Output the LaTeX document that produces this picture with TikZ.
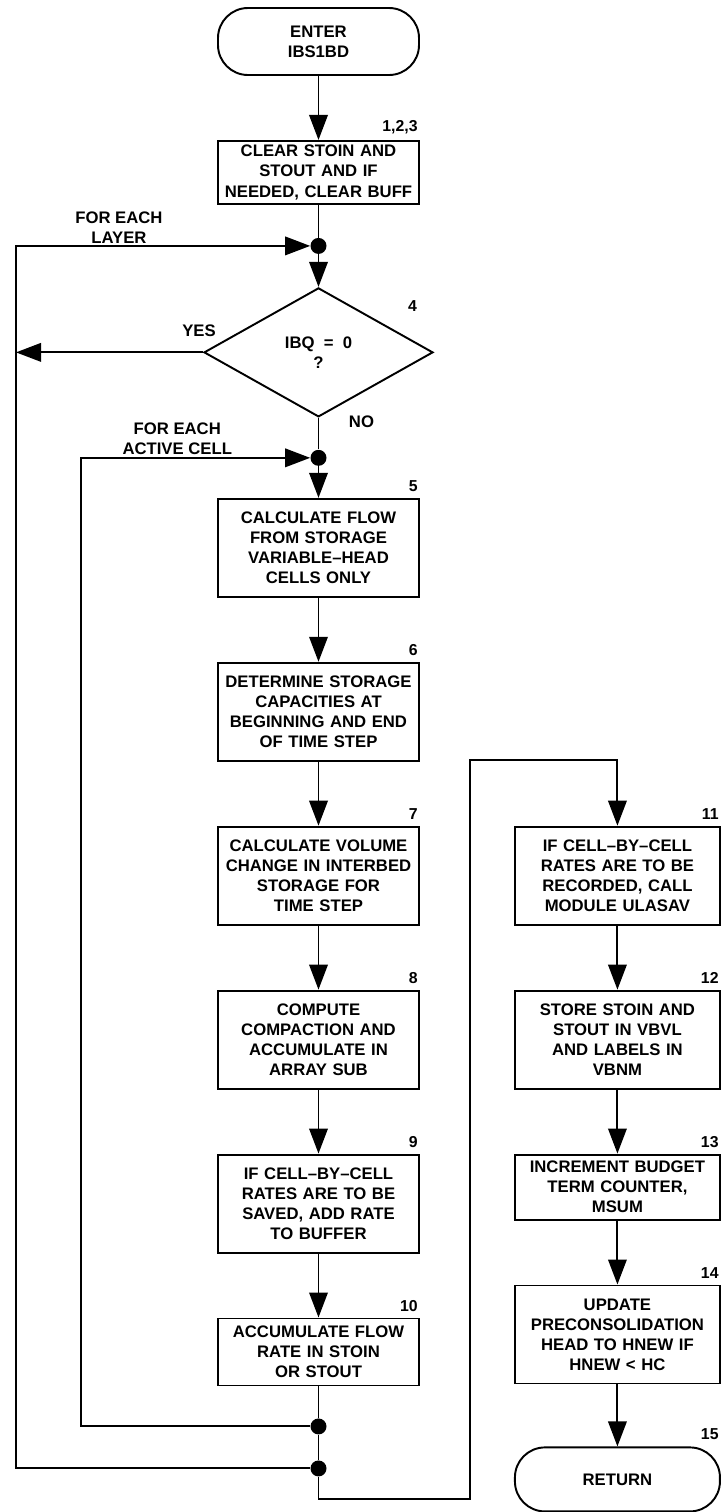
\documentclass[tikz,border=0pt]{standalone}
\usepackage{fontspec}
\setmainfont{Liberation Sans}
\usetikzlibrary{positioning, arrows.meta, shapes.geometric, calc}

\begin{document}
\begin{tikzpicture}[
    node distance=1.28cm and 1.88cm,
    every node/.style={font=\bfseries\fontsize{9.5}{11.4}\selectfont},
    proc/.style={draw, line width=1.1pt, align=center, text width=3.84cm,
      inner xsep=0.09cm, inner ysep=2pt, minimum height=1.96cm},
    wideproc/.style={proc, text width=3.92cm},
    term/.style={draw, line width=1.1pt, rounded corners=0.6cm, align=center,
      minimum width=4.02cm, minimum height=1.34cm},
    decide/.style={draw, diamond, line width=1.1pt, aspect=1.78, inner sep=0pt,
      minimum width=4.58cm, minimum height=2.58cm, align=center},
    joint/.style={circle, fill, inner sep=0pt, minimum size=0.32cm},
    stepno/.style={label={[anchor=south east, inner sep=0pt, xshift=-0.04cm,
      yshift=0.12cm, font=\bfseries\fontsize{9}{10}\selectfont]north east:#1}},
    note/.style={align=center, inner sep=1pt},
    wire/.style={line width=1.1pt},
    arr/.style={wire, -{Triangle[length=0.5cm, width=0.37cm]}}
  ]
    \useasboundingbox (0,0) rectangle (14.44,-30.24);
    \node[term] (enter) at (6.37,-0.83) {ENTER\\IBS1BD};
    \node[proc, minimum height=1.26cm, stepno={1,2,3}, below=of enter] (clr)
      {CLEAR STOIN AND\\STOUT AND IF\\NEEDED, CLEAR BUFF};
    \node[decide, below=1.64cm of clr] (ibq) {IBQ\ \ =\ \ 0\\?};
    \node[proc, stepno=5, below=1.6cm of ibq] (flow)
      {CALCULATE FLOW\\FROM STORAGE\\VARIABLE--HEAD\\CELLS ONLY};
    \node[proc, stepno=6, below=of flow] (cap)
      {DETERMINE STORAGE\\CAPACITIES AT\\BEGINNING AND END\\OF TIME STEP};
    \node[proc, stepno=7, below=of cap] (vol)
      {CALCULATE VOLUME\\CHANGE IN INTERBED\\STORAGE FOR\\TIME STEP};
    \node[proc, stepno=8, below=of vol] (comp)
      {COMPUTE\\COMPACTION AND\\ACCUMULATE IN\\ARRAY SUB};
    \node[proc, stepno=9, below=of comp] (save)
      {IF CELL--BY--CELL\\RATES ARE TO BE\\SAVED, ADD RATE\\TO BUFFER};
    \node[proc, minimum height=1.34cm, stepno=10, below=of save] (acc)
      {ACCUMULATE FLOW\\RATE IN STOIN\\OR STOUT};
    \node[wideproc, stepno=11, right=of vol] (rec)
      {IF CELL--BY--CELL\\RATES ARE TO BE\\RECORDED, CALL\\MODULE ULASAV};
    \node[wideproc, stepno=12, below=of rec] (store)
      {STORE STOIN AND\\STOUT IN VBVL\\AND LABELS IN\\VBNM};
    \node[wideproc, minimum height=1.3cm, stepno=13, below=of store] (incr)
      {INCREMENT BUDGET\\TERM COUNTER,\\MSUM};
    \node[wideproc, stepno=14, below=of incr] (upd)
      {UPDATE\\PRECONSOLIDATION\\HEAD TO HNEW IF\\HNEW < HC};
    \node[term, minimum width=4.1cm, minimum height=1.28cm, stepno=15,
      below=1.24cm of upd] (ret) {RETURN};

    \node[note, font=\bfseries\fontsize{9}{10}\selectfont] (num4)
      at ($(ibq.north)+(1.88,-0.38)$) {4};
    \node[note] (yes) at ($(ibq.west)+(-0.08,0.44)$) {YES};
    \node[note] (no) at ($(ibq.south)+(0.86,-0.08)$) {NO};

    \node[joint] (j1) at ($(clr.south)!0.5!(ibq.north)$) {};
    \node[joint] (j2) at ($(ibq.south)!0.5!(flow.north)$) {};
    \node[joint] (j3) at ($(acc.south)+(0,-0.8)$) {};
    \node[joint] (j4) at ($(acc.south)+(0,-1.64)$) {};
    \coordinate (turn) at ($(acc.south)+(0,-2.26)$);
    \coordinate (outer) at (0.32,0);
    \coordinate (inner) at (1.62,0);
    \coordinate (over) at (9.4,-15.2);

    \draw[arr] (enter) -- (clr);
    \draw[wire] (clr) -- (j1);
    \draw[arr] (j1) -- (ibq);
    \draw[wire] (ibq) -- (j2);
    \draw[arr] (j2) -- (flow);
    \draw[arr] (flow) -- (cap);
    \draw[arr] (cap) -- (vol);
    \draw[arr] (vol) -- (comp);
    \draw[arr] (comp) -- (save);
    \draw[arr] (save) -- (acc);
    \draw[arr] (acc) -- (j3) -- (j4) -- (turn) -| (over) -| (rec);
    \draw[arr] (rec) -- (store);
    \draw[arr] (store) -- (incr);
    \draw[arr] (incr) -- (upd);
    \draw[arr] (upd) -- (ret);
    \draw[arr] (ibq.west) -- (ibq.west -| outer);
    \draw[arr] (j4) -- (j4 -| outer) -- (j1 -| outer)
      -- node[note, above, pos=0.35] {FOR EACH\\LAYER} (j1);
    \draw[arr] (j3) -- (j3 -| inner) -- (j2 -| inner)
      -- node[note, above, pos=0.42] {FOR EACH\\ACTIVE CELL} (j2);
  \end{tikzpicture}
\end{document}
